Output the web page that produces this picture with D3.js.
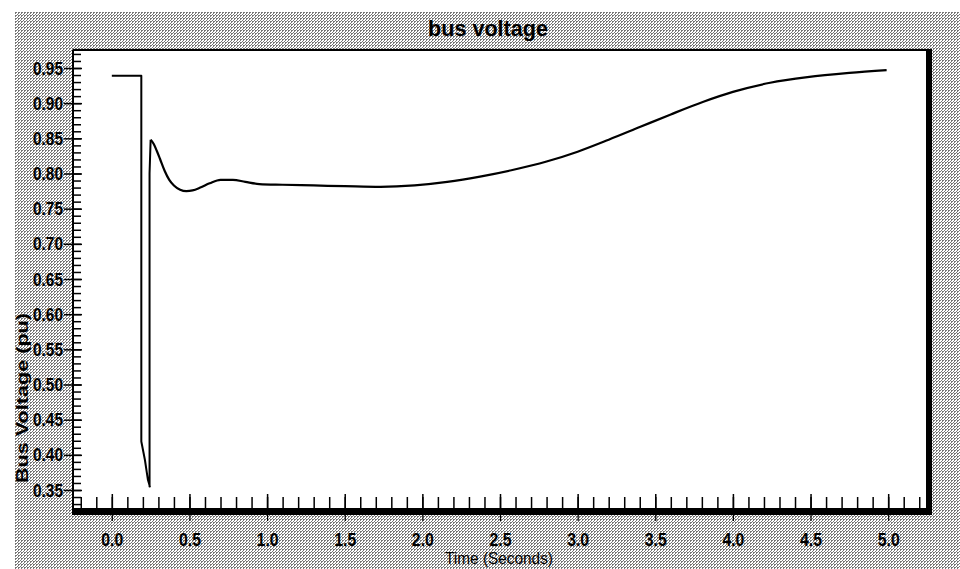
<!DOCTYPE html>
<html>
<head>
<meta charset="utf-8">
<script src="https://cdn.jsdelivr.net/npm/d3@7"></script>
<style>
  html, body { margin: 0; padding: 0; background: #fff; }
  svg { display: block; }
</style>
</head>
<body>
<svg id="chart" width="960" height="569"></svg>
<script>
// ---- data ----
const timeSec = [0.0, 0.19, 0.19, 0.213, 0.232, 0.245, 0.243, 0.243, 0.25, 0.27, 0.29, 0.31, 0.34, 0.37, 0.40, 0.44, 0.48, 0.52, 0.57, 0.63, 0.70, 0.78, 0.86, 0.95, 1.1, 1.3, 1.5, 1.73, 1.95, 2.16, 2.38, 2.58, 2.8, 3.0, 3.2, 3.4, 3.6, 3.81, 4.0, 4.24, 4.48, 4.75, 4.99];
const busVoltage = [0.939, 0.939, 0.419, 0.393, 0.365, 0.355, 0.355, 0.80, 0.848, 0.842, 0.832, 0.821, 0.804, 0.791, 0.783, 0.777, 0.775, 0.776, 0.780, 0.786, 0.791, 0.791, 0.788, 0.785, 0.784, 0.783, 0.782, 0.781, 0.783, 0.788, 0.796, 0.805, 0.817, 0.831, 0.848, 0.866, 0.884, 0.902, 0.916, 0.929, 0.937, 0.943, 0.947];
const xMajorTicks = [0.0, 0.5, 1.0, 1.5, 2.0, 2.5, 3.0, 3.5, 4.0, 4.5, 5.0];
const xTickLabels = ["0.0", "0.5", "1.0", "1.5", "2.0", "2.5", "3.0", "3.5", "4.0", "4.5", "5.0"];
const yMajorTicks = [0.35, 0.40, 0.45, 0.50, 0.55, 0.60, 0.65, 0.70, 0.75, 0.80, 0.85, 0.90, 0.95];
const yTickLabels = ["0.35", "0.40", "0.45", "0.50", "0.55", "0.60", "0.65", "0.70", "0.75", "0.80", "0.85", "0.90", "0.95"];
const chartTitle = "bus voltage";
const xTitle = "Time (Seconds)";
const yTitle = "Bus Voltage (pu)";

const xMinorTicks = d3.range(-2, 53).map(i => i / 10);
const yMinorTicks = d3.range(33, 98).map(i => i / 100);

const svg = d3.select("#chart");
const sans = "'Liberation Sans', Arial, sans-serif";

// halftone-like background pattern
const defs = svg.append("defs");
const pat = defs.append("pattern").attr("id", "halftone")
  .attr("width", 3).attr("height", 3).attr("patternUnits", "userSpaceOnUse");
pat.append("rect").attr("width", 3).attr("height", 3).attr("fill", "#ffffff");
[[0,0],[1,0],[0,1],[2,2]].forEach(([a,b]) =>
  pat.append("rect").attr("x", a).attr("y", b).attr("width", 1).attr("height", 1).attr("fill", "#777777"));

svg.append("rect").attr("x", 15).attr("y", 12).attr("width", 945).attr("height", 557)
  .attr("fill", "url(#halftone)");

// plot area
const L = 73, T = 50, R = 927, B = 508;
svg.append("rect").attr("x", L).attr("y", T).attr("width", R - L).attr("height", B - T).attr("fill", "#fff");

const x = d3.scaleLinear().domain([-0.25, 5.25]).range([L, R]);
const y = d3.scaleLinear().domain([0.35, 0.95]).range([490, 68]);

// x minor ticks (inward)
svg.append("g").attr("transform", `translate(0,${B})`)
  .call(d3.axisBottom(x).tickValues(xMinorTicks).tickSize(-11).tickFormat(""))
  .call(g => g.select(".domain").remove())
  .call(g => g.selectAll("line").attr("stroke", "#000").attr("stroke-width", 1.5));
// x major ticks (inward, longer)
svg.append("g").attr("transform", `translate(0,${B})`)
  .call(d3.axisBottom(x).tickValues(xMajorTicks).tickSize(-14).tickFormat(""))
  .call(g => g.select(".domain").remove())
  .call(g => g.selectAll("line").attr("stroke", "#000").attr("stroke-width", 1.5));
// x major ticks (outward) + labels
svg.append("g").attr("transform", `translate(0,514)`)
  .call(d3.axisBottom(x).tickValues(xMajorTicks).tickSize(7).tickPadding(5)
    .tickFormat((d, i) => xTickLabels[i]))
  .call(g => g.select(".domain").remove())
  .call(g => g.selectAll("line").attr("stroke", "#000").attr("stroke-width", 1.2))
  .call(g => g.selectAll("text").attr("fill", "#000").attr("font-family", sans)
    .attr("font-size", 19).attr("font-weight", "bold").attr("dy", null).attr("y", 32)
    .attr("textLength", 22).attr("lengthAdjust", "spacingAndGlyphs"));

// y minor ticks (inward)
svg.append("g").attr("transform", `translate(${L},0)`)
  .call(d3.axisLeft(y).tickValues(yMinorTicks).tickSize(-8).tickFormat(""))
  .call(g => g.select(".domain").remove())
  .call(g => g.selectAll("line").attr("stroke", "#000").attr("stroke-width", 1.5));
// y major ticks (both sides) + labels
svg.append("g").attr("transform", `translate(${L},0)`)
  .call(d3.axisLeft(y).tickValues(yMajorTicks).tickSize(9).tickPadding(1)
    .tickFormat((d, i) => yTickLabels[i]))
  .call(g => g.select(".domain").remove())
  .call(g => g.selectAll("line").attr("stroke", "#000").attr("stroke-width", 1.5).attr("x2", 9).attr("x1", -9))
  .call(g => g.selectAll("text").attr("fill", "#000").attr("font-family", sans)
    .attr("font-size", 19).attr("font-weight", "bold")
    .attr("textLength", 30).attr("lengthAdjust", "spacingAndGlyphs"));

// borders
svg.append("line").attr("x1", L).attr("x2", R + 5).attr("y1", T).attr("y2", T).attr("stroke", "#000").attr("stroke-width", 2);
svg.append("line").attr("x1", L).attr("x2", L).attr("y1", T).attr("y2", B + 7).attr("stroke", "#000").attr("stroke-width", 2);
svg.append("rect").attr("x", R - 1).attr("y", T).attr("width", 6).attr("height", B + 7 - T).attr("fill", "#000");
svg.append("rect").attr("x", L).attr("y", B).attr("width", R + 5 - L).attr("height", 7).attr("fill", "#000");

// the voltage trace: fault dip (straight segments) then smooth recovery
const pts = timeSec.map((t, i) => [t, busVoltage[i]]);
const peakIdx = 8;
const lineLin = d3.line().x(d => x(d[0])).y(d => y(d[1])).curve(d3.curveLinear);
const lineSmooth = d3.line().x(d => x(d[0])).y(d => y(d[1])).curve(d3.curveMonotoneX);
svg.append("path").datum(pts.slice(0, peakIdx + 1))
  .attr("fill", "none").attr("stroke", "#000").attr("stroke-width", 2).attr("stroke-linejoin", "round")
  .attr("d", lineLin);
svg.append("path").datum(pts.slice(peakIdx))
  .attr("fill", "none").attr("stroke", "#000").attr("stroke-width", 2.2).attr("stroke-linejoin", "round")
  .attr("d", lineSmooth);

// titles
svg.append("text").attr("x", 488).attr("y", 36).attr("text-anchor", "middle")
  .attr("font-family", sans).attr("font-size", 22).attr("font-weight", "bold")
  .attr("textLength", 120).attr("lengthAdjust", "spacingAndGlyphs")
  .attr("fill", "#000").text(chartTitle);
svg.append("text").attr("x", 499).attr("y", 564).attr("text-anchor", "middle")
  .attr("font-family", sans).attr("font-size", 17).attr("fill", "#000")
  .attr("textLength", 108).attr("lengthAdjust", "spacingAndGlyphs").text(xTitle);
svg.append("text").attr("transform", "translate(28,398) rotate(-90)").attr("text-anchor", "middle")
  .attr("font-family", sans).attr("font-size", 17).attr("font-weight", "bold")
  .attr("textLength", 170).attr("lengthAdjust", "spacingAndGlyphs")
  .attr("fill", "#000").text(yTitle);
</script>
</body>
</html>
